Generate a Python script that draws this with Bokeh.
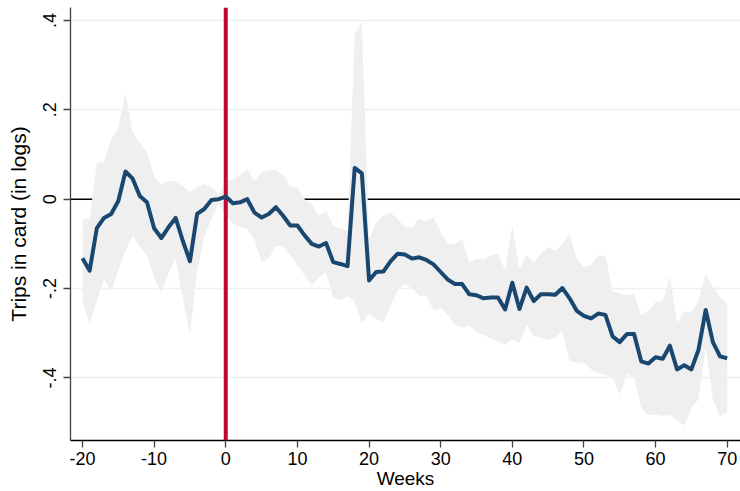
from bokeh.plotting import figure
from bokeh.models import Span, FixedTicker, Range1d
from bokeh.embed import file_html
from bokeh.resources import INLINE

weeks = list(range(-20, 71))

coef = [-0.132, -0.160, -0.065, -0.042, -0.033, -0.004, 0.062, 0.046, 0.007, -0.007,
        -0.065, -0.087, -0.063, -0.042, -0.093, -0.139, -0.033, -0.022, -0.002, 0.000,
        0.006, -0.009, -0.007, 0.000, -0.030, -0.041, -0.033, -0.018, -0.037, -0.059,
        -0.059, -0.081, -0.100, -0.106, -0.098, -0.141, -0.145, -0.150, 0.070, 0.058,
        -0.182, -0.163, -0.162, -0.139, -0.122, -0.124, -0.133, -0.130, -0.136, -0.146,
        -0.163, -0.180, -0.190, -0.190, -0.213, -0.215, -0.222, -0.220, -0.220, -0.247,
        -0.187, -0.246, -0.198, -0.228, -0.213, -0.213, -0.214, -0.199, -0.222, -0.250,
        -0.261, -0.267, -0.256, -0.259, -0.307, -0.320, -0.302, -0.302, -0.363, -0.368,
        -0.354, -0.357, -0.328, -0.381, -0.372, -0.381, -0.337, -0.248, -0.320, -0.352,
        -0.356]

upper = [-0.044, -0.044, 0.082, 0.083, 0.135, 0.160, 0.240, 0.150, 0.126, 0.105,
         0.052, 0.033, 0.041, 0.039, 0.030, 0.016, 0.028, 0.034, 0.026, 0.012,
         0.040, 0.044, 0.055, 0.068, 0.041, 0.061, 0.065, 0.066, 0.055, 0.029,
         0.025, 0.000, -0.011, -0.037, -0.026, -0.059, -0.066, -0.070, 0.370, 0.396,
         -0.089, -0.052, -0.037, -0.030, -0.044, -0.063, -0.063, -0.044, -0.050, -0.040,
         -0.074, -0.100, -0.100, -0.090, -0.141, -0.133, -0.136, -0.126, -0.122, -0.159,
         -0.059, -0.156, -0.126, -0.141, -0.122, -0.107, -0.115, -0.100, -0.078, -0.133,
         -0.152, -0.148, -0.126, -0.127, -0.206, -0.211, -0.215, -0.211, -0.259, -0.250,
         -0.230, -0.228, -0.172, -0.278, -0.252, -0.252, -0.226, -0.167, -0.196, -0.219,
         -0.233]

lower = [-0.230, -0.279, -0.229, -0.178, -0.206, -0.160, -0.115, -0.082, -0.107, -0.126,
         -0.175, -0.210, -0.167, -0.133, -0.220, -0.305, -0.160, -0.085, -0.044, -0.009,
         -0.037, -0.055, -0.062, -0.067, -0.089, -0.141, -0.133, -0.104, -0.107, -0.126,
         -0.148, -0.170, -0.193, -0.174, -0.163, -0.222, -0.226, -0.218, -0.230, -0.278,
         -0.256, -0.267, -0.277, -0.240, -0.203, -0.190, -0.200, -0.216, -0.217, -0.248,
         -0.243, -0.259, -0.281, -0.286, -0.284, -0.298, -0.304, -0.313, -0.318, -0.326,
         -0.313, -0.322, -0.281, -0.307, -0.309, -0.316, -0.310, -0.296, -0.363, -0.365,
         -0.366, -0.381, -0.389, -0.393, -0.400, -0.437, -0.392, -0.400, -0.467, -0.483,
         -0.482, -0.485, -0.483, -0.495, -0.507, -0.467, -0.448, -0.333, -0.448, -0.487,
         -0.478]

xtick_vals = [-20, -10, 0, 10, 20, 30, 40, 50, 60, 70]
xtick_labels = ["-20", "-10", "0", "10", "20", "30", "40", "50", "60", "70"]
ytick_vals = [0.4, 0.2, 0.0, -0.2, -0.4]
ytick_labels = [".4", ".2", "0", "-.2", "-.4"]

FONT = "Liberation Sans"

p = figure(width=740, height=491, output_backend="svg", toolbar_location=None,
           x_range=Range1d(-21.675, 71.857), y_range=Range1d(-0.5402, 0.4291),
           min_border_left=70, min_border_right=0, min_border_top=7, min_border_bottom=51)

p.background_fill_color = "white"
p.border_fill_color = "white"
p.outline_line_color = None

# grid
p.xgrid.visible = False
p.ygrid.ticker = FixedTicker(ticks=ytick_vals)
p.ygrid.grid_line_color = "#eaf2f3"
p.ygrid.grid_line_width = 1.5

# zero line under the CI band
zero = Span(location=0, dimension="width", line_color="black", line_width=1.5, level="underlay")
p.add_layout(zero)

p.varea(x=weeks, y1=lower, y2=upper, fill_color="#efefef")

red = Span(location=0, dimension="height", line_color="#c10534", line_width=4)
p.add_layout(red)

p.line(weeks, coef, line_color="#1a476f", line_width=4, line_join="round", level="overlay")

# axes
xa = p.xaxis[0]
xa.ticker = FixedTicker(ticks=xtick_vals)
xa.major_label_overrides = {v: l for v, l in zip(xtick_vals, xtick_labels)}
xa.axis_label = "Weeks"
xa.axis_line_color = "black"
xa.axis_line_width = 1.3
xa.major_tick_line_color = "#444444"
xa.major_tick_line_width = 1.3
xa.major_tick_out = 7
xa.major_tick_in = 0
xa.minor_tick_line_color = None
xa.major_label_text_font = FONT
xa.major_label_text_font_size = "18px"
xa.major_label_text_color = "black"
xa.major_label_standoff = 4
xa.axis_label_text_font = FONT
xa.axis_label_text_font_size = "19px"
xa.axis_label_text_font_style = "normal"
xa.axis_label_text_color = "black"
xa.axis_label_standoff = 0

ya = p.yaxis[0]
ya.ticker = FixedTicker(ticks=ytick_vals)
ya.major_label_overrides = {v: l for v, l in zip(ytick_vals, ytick_labels)}
ya.axis_label = "Trips in card (in logs)"
ya.axis_line_color = "#404040"
ya.axis_line_width = 1.3
ya.major_tick_line_color = "#444444"
ya.major_tick_line_width = 1.3
ya.major_tick_out = 7
ya.major_tick_in = 0
ya.minor_tick_line_color = None
ya.major_label_orientation = "vertical"
ya.major_label_text_font = FONT
ya.major_label_text_font_size = "18px"
ya.major_label_text_color = "black"
ya.major_label_standoff = 7
ya.axis_label_text_font = FONT
ya.axis_label_text_font_size = "21px"
ya.axis_label_text_font_style = "normal"
ya.axis_label_text_color = "black"
ya.axis_label_standoff = 11

open("out.html", "w").write(file_html(p, INLINE))
